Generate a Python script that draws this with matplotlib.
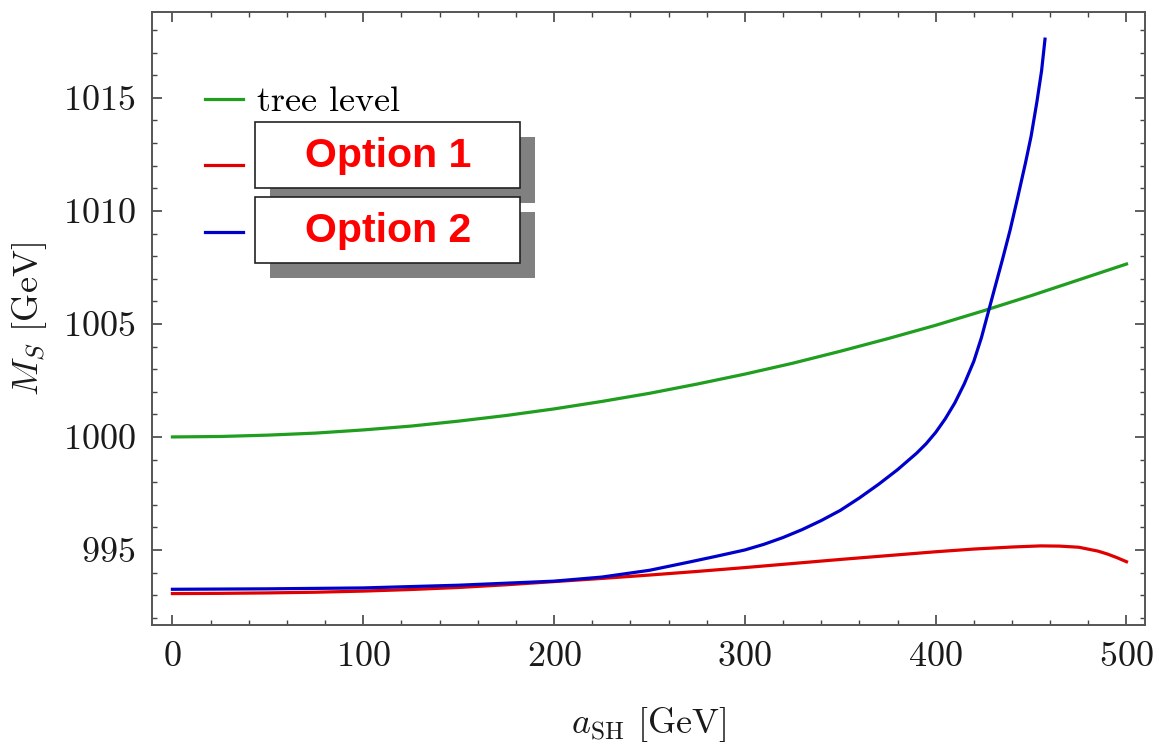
import matplotlib
matplotlib.use("Agg")
import matplotlib.pyplot as plt
from matplotlib.lines import Line2D
from matplotlib.patches import Rectangle
from matplotlib.ticker import MultipleLocator

plt.rcParams['font.family'] = 'serif'
plt.rcParams['font.serif'] = ['cmr10', 'DejaVu Serif']
plt.rcParams['mathtext.fontset'] = 'cm'
plt.rcParams['axes.formatter.use_mathtext'] = True

# tree level curve
tree_x = [0, 25, 50, 75, 100, 125, 150, 175, 200, 225, 250, 275, 300, 325, 350,
          375, 400, 425, 450, 475, 500]
tree_y = [1000.0, 1000.02, 1000.08, 1000.17, 1000.31, 1000.48, 1000.70, 1000.95,
          1001.24, 1001.57, 1001.93, 1002.34, 1002.78, 1003.26, 1003.79, 1004.35,
          1004.94, 1005.58, 1006.25, 1006.95, 1007.65]

# option 1 (red)
opt1_x = [0, 25, 50, 75, 100, 125, 150, 175, 200, 225, 250, 275, 300, 325, 350,
          375, 400, 420, 440, 455, 465, 475, 485, 490, 495, 500]
opt1_y = [993.07, 993.08, 993.10, 993.13, 993.18, 993.25, 993.34, 993.46, 993.60,
          993.74, 993.89, 994.05, 994.22, 994.40, 994.58, 994.75, 994.92, 995.04,
          995.13, 995.18, 995.17, 995.12, 994.95, 994.82, 994.66, 994.48]

# option 2 (blue)
opt2_x = [0, 50, 100, 150, 200, 225, 250, 270, 285, 300, 310, 320, 330, 340, 350,
          360, 370, 380, 390, 395, 400, 405, 410, 415, 420, 424, 427.5, 431, 435,
          439, 443, 447, 450, 453, 455.5, 457.3]
opt2_y = [993.26, 993.28, 993.32, 993.44, 993.62, 993.80, 994.10, 994.45, 994.72,
          995.0, 995.25, 995.55, 995.9, 996.3, 996.75, 997.3, 997.9, 998.55, 999.28,
          999.7, 1000.2, 1000.8, 1001.5, 1002.35, 1003.35, 1004.4, 1005.5, 1006.6,
          1007.85, 1009.15, 1010.6, 1012.1, 1013.3, 1014.8, 1016.2, 1017.6]

W, H = 1159, 749

def fx(px):
    return px / W

def fy(py):
    return 1 - py / H

fig = plt.figure(figsize=(W / 100, H / 100), dpi=100)
ax = fig.add_axes([fx(152), fy(625), (1145 - 152) / W, (625 - 12) / H])

ax.plot(tree_x, tree_y, color='#1f9e1f', lw=2.3)
ax.plot(opt1_x, opt1_y, color='#e00000', lw=2.3)
ax.plot(opt2_x, opt2_y, color='#0000cc', lw=2.3)

ax.set_xlim(-10.7, 509.7)
ax.set_ylim(991.68, 1018.8)
ax.xaxis.set_major_locator(MultipleLocator(100))
ax.xaxis.set_minor_locator(MultipleLocator(20))
ax.yaxis.set_major_locator(MultipleLocator(5))
ax.yaxis.set_minor_locator(MultipleLocator(1))
ax.tick_params(which='both', direction='in', top=True, right=True,
               colors='#444444', labelcolor='#1a1a1a', labelsize=26)
ax.tick_params(which='major', length=7, width=1.2, pad=12)
ax.tick_params(which='minor', length=3.5, width=1.0)
for s in ax.spines.values():
    s.set_color('#555555')
    s.set_linewidth(1.4)

ax.set_xlabel(r'$a_{\rm SH}$ [GeV]', fontsize=26, color='#1a1a1a', labelpad=23)
ax.set_ylabel(r'$M_S$ [GeV]', fontsize=26, color='#1a1a1a', labelpad=10)

handles = [Line2D([], [], color='#1f9e1f', lw=2.3),
           Line2D([], [], color='#e00000', lw=2.3),
           Line2D([], [], color='#0000cc', lw=2.3)]
ax.legend(handles, ['tree level', ' ', ' '], loc='upper left',
          bbox_to_anchor=(0.053, 0.879), frameon=False, fontsize=26,
          handlelength=1.05, handletextpad=0.4, labelspacing=0.95,
          borderpad=0, borderaxespad=0)

# boxes pasted over the legend
for top, label in [(122, 'Option 1'), (197, 'Option 2')]:
    fig.patches.append(Rectangle((fx(270), fy(top + 81)), fx(265), 66 / H,
                                 transform=fig.transFigure, facecolor='#808080',
                                 edgecolor='none', zorder=5))
    fig.patches.append(Rectangle((fx(255), fy(top + 66)), fx(265), 66 / H,
                                 transform=fig.transFigure, facecolor='white',
                                 edgecolor='#222222', lw=1.2, zorder=6))
    fig.text(fx(388), fy(top + 34), label, color='#ff0000', fontsize=29.5,
             fontweight='bold', family='Liberation Sans', ha='center',
             va='center', zorder=7)

fig.savefig('out.png', dpi=100)
